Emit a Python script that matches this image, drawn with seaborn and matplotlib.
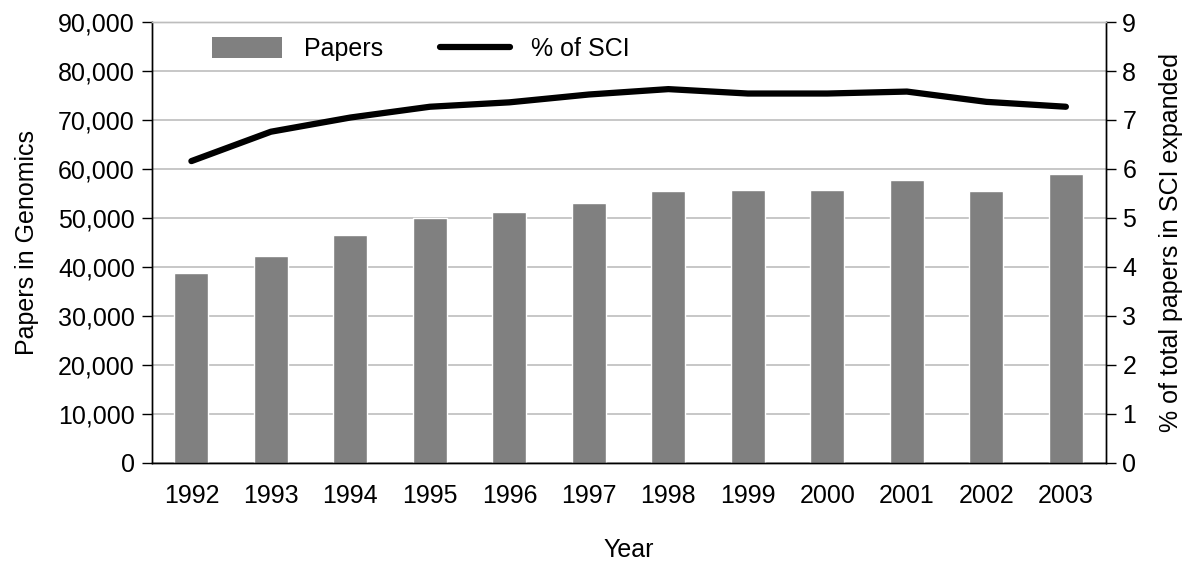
import numpy as np
import pandas as pd
import seaborn as sns
import matplotlib.pyplot as plt
from matplotlib.ticker import FuncFormatter, MultipleLocator
from matplotlib.patches import Patch
from matplotlib.lines import Line2D

# datos
years = ['1992', '1993', '1994', '1995', '1996', '1997',
         '1998', '1999', '2000', '2001', '2002', '2003']
papers = [38700, 42200, 46500, 50000, 51200, 53000,
          55400, 55800, 55800, 57700, 55400, 58900]
pct_sci = [6.16, 6.76, 7.05, 7.27, 7.36, 7.52,
           7.63, 7.54, 7.54, 7.58, 7.37, 7.27]

df = pd.DataFrame({'Year': years, 'Papers': papers, 'Pct': pct_sci})

sns.set_style('white')
plt.rcParams['font.family'] = ['Liberation Sans', 'DejaVu Sans']
plt.rcParams['text.color'] = 'black'
plt.rcParams['axes.labelcolor'] = 'black'
plt.rcParams['xtick.color'] = 'black'
plt.rcParams['ytick.color'] = 'black'
fs = 18

fig = plt.figure(figsize=(11.94, 5.65), dpi=100)
ax = fig.add_axes([0.127, 0.181, 0.799, 0.78])

sns.barplot(data=df, x='Year', y='Papers', color='#808080', saturation=1,
            width=0.43, ax=ax, zorder=2)
ax.set_ylim(0, 90000)
ax.set_xlim(-0.5, len(years) - 0.5)
ax.yaxis.set_major_locator(MultipleLocator(10000))
ax.yaxis.set_major_formatter(FuncFormatter(lambda v, p: f'{int(v):,}'))
ax.grid(axis='y', color='#bdbdbd', linewidth=1.2, zorder=0)
ax.set_axisbelow(True)
ax.set_ylabel('Papers in Genomics', fontsize=fs, labelpad=14)
ax.set_xlabel('Year', fontsize=fs, labelpad=22)

# ticks entre categorías en el eje x
ax.set_xticks(np.arange(len(years)))
ax.set_xticklabels(years)
ax.set_xticks(np.arange(-0.5, len(years)), minor=True)
ax.tick_params(axis='x', which='major', length=0, pad=15, labelsize=fs)
ax.tick_params(axis='x', which='minor', length=7, width=1, color='black', direction='out')
ax.tick_params(axis='y', length=7, width=1, color='black', direction='out', labelsize=fs, pad=5)

ax2 = ax.twinx()
sns.lineplot(x=np.arange(len(years)), y=df['Pct'], color='black', linewidth=4.5,
             ax=ax2, solid_capstyle='round', solid_joinstyle='round')
ax2.set_ylim(0, 9)
ax2.yaxis.set_major_locator(MultipleLocator(1))
ax2.set_ylabel('% of total papers in SCI expanded', fontsize=fs, labelpad=16)
ax2.tick_params(axis='y', length=7, width=1, color='black', direction='out', labelsize=fs, pad=5)

for a in (ax, ax2):
    a.spines['top'].set_color('#bdbdbd')
    a.spines['left'].set_color('black')
    a.spines['right'].set_color('black')
    a.spines['bottom'].set_color('black')
    for s in a.spines.values():
        s.set_linewidth(1)

handles = [Patch(facecolor='#808080', edgecolor='none', label='Papers'),
           Line2D([0], [0], color='black', linewidth=4.5, label='% of SCI')]
ax.legend(handles=handles, loc='upper left', bbox_to_anchor=(0.04, 1.017), ncol=2,
          frameon=False, fontsize=fs, handlelength=2.8, handleheight=0.9,
          columnspacing=2.3, handletextpad=0.85)

fig.savefig('out.png', dpi=100)
